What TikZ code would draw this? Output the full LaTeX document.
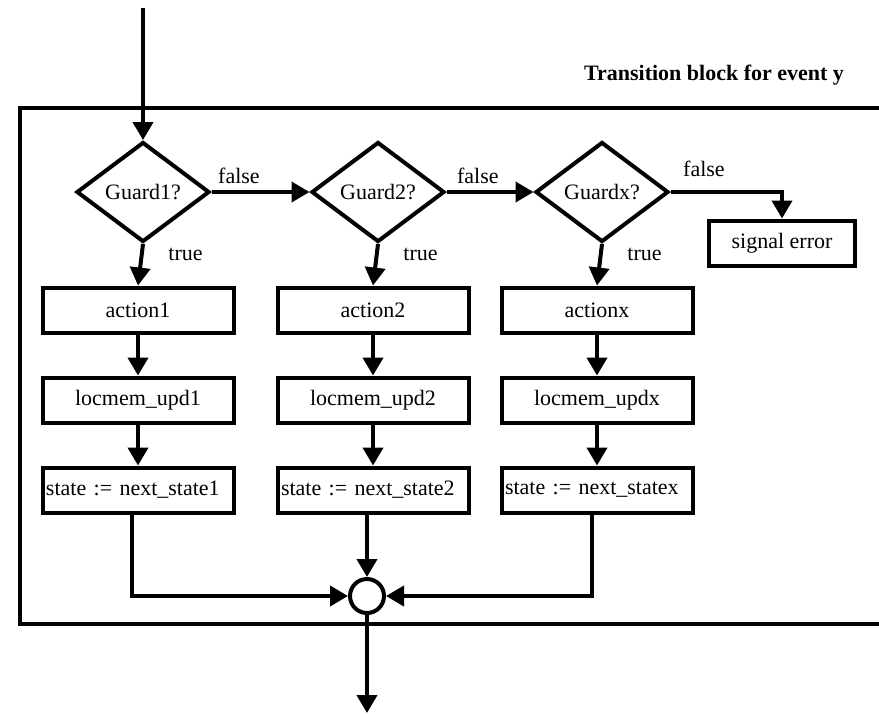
\documentclass[tikz,border=0pt]{standalone}
\usepackage{fontspec}
\setmainfont{Liberation Serif}
\usetikzlibrary{shapes.geometric,arrows.meta}

\tikzset{
	fleche/.style={line width=2pt, -{Triangle[length=9pt,width=10pt]}},
	garde/.style={diamond, draw, line width=2pt, aspect=1.33, inner sep=0pt, minimum width=66.5pt, minimum height=50pt},
	etape/.style={rectangle, draw, line width=2pt, inner sep=1pt, minimum width=95.5pt, minimum height=22.5pt},
	etat/.style={etape, text width=92pt, align=left},
}

\begin{document}
\begin{tikzpicture}[x=0.5pt, y=-0.5pt, font=\fontsize{11}{13}\selectfont]
				\clip (0,0) rectangle (879,714);

				% cadre du bloc de transition
				\draw[line width=2pt] (20,108) rectangle (920,624);
				\node[font=\fontsize{11}{13}\selectfont\bfseries] (titre) at (714,75) {Transition block for event y};

				% gardes
				\node[garde] (g1) at (143,192) {Guard1?};
				\node[garde] (g2) at (378,192) {Guard2?};
				\node[garde] (gx) at (602,192) {Guardx?};
				\node[etape, minimum width=73pt] (err) at (782,243) {signal error};

				% colonne 1
				\node[etape] (a1) at (138,310) {action1};
				\node[etape] (m1) at (138,400) {locmem\_upd1};
				\node[etat] (s1) at (138,490) {state := next\_state1};

				% colonne 2
				\node[etape] (a2) at (373,310) {action2};
				\node[etape] (m2) at (373,400) {locmem\_upd2};
				\node[etat] (s2) at (373,490) {state := next\_state2};

				% colonne x
				\node[etape] (ax) at (597,310) {actionx};
				\node[etape] (mx) at (597,400) {locmem\_updx};
				\node[etat] (sx) at (597,490) {state := next\_statex};

				% jonction
				\node[circle, draw, line width=2pt, minimum size=17pt, inner sep=0pt] (j) at (367,596) {};

				% entree et sortie
				\coordinate (entree) at (143,8);
				\coordinate (sortie) at (367,713);
				\draw[fleche] (entree) -- (g1.north);
				\draw[fleche] (j.south) -- (sortie);

				% branches false
				\draw[fleche] (g1.east) -- (g2.west) node[pos=.28, above] {false};
				\draw[fleche] (g2.east) -- (gx.west) node[pos=.36, above] {false};
				\draw[fleche] (gx.east) -| (err.north) node[pos=.15, above, yshift=3.5pt] {false};

				% branches true
				\draw[fleche] (g1.south) -- (a1.north) node[pos=.25, right=9pt] {true};
				\draw[fleche] (g2.south) -- (a2.north) node[pos=.25, right=9pt] {true};
				\draw[fleche] (gx.south) -- (ax.north) node[pos=.25, right=9pt] {true};

				% enchainements
				\draw[fleche] (a1) -- (m1);
				\draw[fleche] (m1) -- (s1);
				\draw[fleche] (a2) -- (m2);
				\draw[fleche] (m2) -- (s2);
				\draw[fleche] (ax) -- (mx);
				\draw[fleche] (mx) -- (sx);

				% vers la jonction
				\draw[fleche] ([xshift=-3pt]s1.south) |- (j.west);
				\draw[fleche] (j.north |- s2.south) -- (j.north);
				\draw[fleche] ([xshift=-2.5pt]sx.south) |- (j.east);
			\end{tikzpicture}
\end{document}
